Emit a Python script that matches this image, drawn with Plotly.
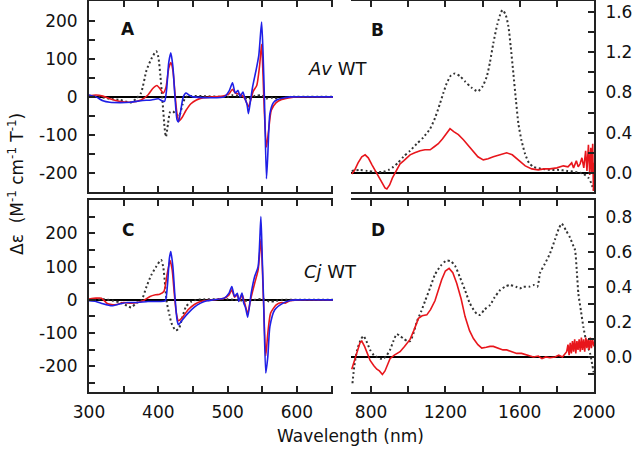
import plotly.graph_objects as go

# ---------------- Panel A (Av WT, visible) ----------------
a_red_x = [300, 310, 320, 330, 345, 360, 375, 385, 392, 398, 403, 407, 411, 415, 418, 421, 424, 427, 430, 434, 440, 447, 455, 465, 480, 495, 502, 507, 511, 515, 520, 525, 530, 533, 537, 542, 546, 549, 551, 553, 556, 559, 563, 570, 578, 590, 600, 652]
a_red_y = [3, 5, 2, -5, -12, -14, -8, 5, 22, 30, 20, 10, 25, 75, 90, 70, 10, -45, -63, -55, -35, -18, -8, -2, 0, 3, 8, 20, 10, 8, 5, -5, -26, -10, 15, 30, 80, 138, 60, -40, -132, -90, -35, -15, -7, -2, 0, 0]

a_blue_x = [300, 310, 320, 330, 345, 360, 375, 390, 400, 405, 409, 412, 415, 418, 421, 424, 427, 429, 432, 436, 440, 444, 450, 495, 502, 507, 511, 515, 518, 522, 525, 528, 530, 533, 536, 541, 545, 549, 551, 553, 556, 558, 561, 566, 572, 580, 590, 652]
a_blue_y = [5, 0, -10, -14, -15, -14, -10, -8, -5, -10, -12, 20, 90, 116, 80, 0, -60, -66, -40, 0, 10, 5, 0, 0, 15, 37, 10, 17, 0, 13, -4, -20, -44, -10, 26, 70, 110, 197, 120, 0, -215, -150, -44, -15, -7, -3, 0, 0]

a_dot_x = [300, 315, 330, 345, 360, 368, 375, 383, 390, 397, 400, 403, 406, 409, 411, 414, 417, 421, 425, 430, 435, 440, 500, 507, 520, 530, 540, 549, 556, 565, 575, 590, 652]
a_dot_y = [3, 0, -5, -8, -15, -5, 10, 70, 100, 120, 105, 55, -10, -80, -105, -70, -40, -38, -45, -50, -20, 0, 0, 4, 2, -5, 3, 4, -4, -2, -5, 0, 0]

# ---------------- Panel B (Av WT, NIR) ----------------
b_red_x = [696, 710, 730, 750, 768, 785, 805, 821, 840, 860, 875, 885, 900, 915, 929, 945, 956, 975, 990, 1010, 1035, 1064, 1090, 1118, 1140, 1162, 1185, 1205, 1225, 1245, 1270, 1297, 1325, 1351, 1375, 1404, 1430, 1458, 1490, 1530, 1560, 1585, 1602, 1630, 1665, 1700, 1730, 1763, 1800, 1835, 1860, 1880, 1890, 1905, 1915, 1925, 1935, 1945, 1955, 1962, 1970, 1977, 1983, 1988, 1993, 1997, 2000]
b_red_y = [-0.01, 0.02, 0.10, 0.16, 0.18, 0.15, 0.08, 0.03, -0.03, -0.10, -0.15, -0.16, -0.12, -0.05, 0.0, 0.05, 0.09, 0.12, 0.15, 0.18, 0.20, 0.22, 0.23, 0.23, 0.26, 0.29, 0.34, 0.39, 0.44, 0.41, 0.38, 0.33, 0.27, 0.21, 0.16, 0.13, 0.14, 0.16, 0.18, 0.20, 0.18, 0.14, 0.11, 0.07, 0.04, 0.03, 0.04, 0.04, 0.05, 0.07, 0.06, 0.10, 0.05, 0.12, 0.06, 0.09, 0.15, 0.05, 0.22, 0.02, 0.28, -0.02, 0.25, 0.0, 0.29, -0.18, 0.1]

b_dot_x = [696, 741, 780, 820, 866, 895, 920, 945, 974, 1010, 1046, 1080, 1118, 1145, 1171, 1190, 1207, 1230, 1252, 1280, 1306, 1340, 1374, 1400, 1423, 1440, 1458, 1480, 1500, 1509, 1525, 1539, 1552, 1566, 1580, 1593, 1610, 1629, 1650, 1674, 1720, 1763, 1810, 1854, 1900, 1943, 1970, 1985, 1997]
b_dot_y = [0.02, 0.03, 0.02, 0.01, 0.01, 0.03, 0.06, 0.10, 0.16, 0.22, 0.29, 0.35, 0.44, 0.55, 0.69, 0.80, 0.89, 0.97, 0.99, 0.96, 0.91, 0.85, 0.81, 0.86, 0.96, 1.10, 1.29, 1.48, 1.60, 1.62, 1.57, 1.46, 1.25, 0.99, 0.72, 0.49, 0.32, 0.19, 0.10, 0.06, 0.04, 0.03, 0.03, 0.02, 0.01, -0.01, -0.05, -0.10, -0.17]

# ---------------- Panel C (Cj WT, visible) ----------------
c_red_x = [300, 310, 318, 327, 340, 350, 360, 370, 378, 388, 396, 402, 408, 413, 417, 420, 423, 426, 429, 434, 443, 452, 461, 470, 480, 495, 502, 506, 510, 514, 517, 521, 524, 529, 533, 539, 544, 548, 550, 552, 555, 558, 562, 570, 578, 583, 590, 600, 652]
c_red_y = [2, 5, 5, -12, -14, -8, -10, -8, -3, 10, 15, 17, 25, 80, 118, 90, 20, -40, -63, -55, -30, -14, -5, -2, 0, 5, 15, 30, 8, 15, -3, 15, -5, -40, 0, 50, 90, 182, 100, -20, -168, -100, -40, -15, -8, -10, -3, 0, 0]

c_blue_x = [300, 310, 320, 333, 345, 355, 370, 385, 402, 410, 413, 416, 418, 421, 424, 427, 429, 434, 443, 452, 461, 470, 480, 495, 502, 506, 510, 514, 516, 520.7, 523, 526, 529, 534, 539, 544, 548, 550, 552, 555, 558, 561, 568, 580, 590, 600, 652]
c_blue_y = [-3, -5, -12, -18, -12, -8, -8, -5, -5, -3, 40, 125, 145, 100, 10, -60, -75, -62, -40, -22, -10, -3, 0, 5, 20, 40, 10, 20, -5, 20, -8, -25, -52, 20, 70, 100, 250, 120, -10, -220, -170, -80, -30, -10, -2, 0, 0]

c_dot_x = [300, 320, 335, 345, 355, 361, 368, 376, 383, 390, 397, 404, 407, 410, 412, 416, 419, 425, 430, 435, 440, 448, 455, 500, 510, 530, 550, 560, 570, 580, 652]
c_dot_y = [0, 2, -3, -8, -18, -23, -10, 0, 40, 75, 100, 120, 100, 40, -5, -45, -70, -92, -85, -50, -20, -5, 0, 2, 0, -3, 3, -5, -3, 0, 0]

# ---------------- Panel D (Cj WT, NIR) ----------------
d_red_x = [696, 710, 725, 740, 750, 765, 780, 795, 815, 831, 845, 861, 875, 890, 902, 925, 956, 980, 1010, 1030, 1055, 1075, 1100, 1120, 1144, 1165, 1180, 1200, 1220, 1240, 1261, 1285, 1306, 1330, 1351, 1375, 1396, 1420, 1440, 1458, 1480, 1510, 1530, 1555, 1584, 1610, 1640, 1674, 1700, 1720, 1740, 1763, 1790, 1810, 1830, 1853, 1860, 1866, 1872, 1878, 1884, 1890, 1896, 1902, 1908, 1914, 1920, 1926, 1932, 1938, 1944, 1950, 1956, 1962, 1968, 1974, 1980, 1986, 1992, 2000]
d_red_y = [-0.07, -0.02, 0.04, 0.08, 0.09, 0.06, 0.02, -0.02, -0.05, -0.07, -0.08, -0.10, -0.08, -0.04, -0.01, 0.01, 0.03, 0.06, 0.10, 0.15, 0.22, 0.235, 0.24, 0.27, 0.32, 0.39, 0.44, 0.49, 0.505, 0.48, 0.42, 0.33, 0.23, 0.15, 0.105, 0.07, 0.05, 0.055, 0.06, 0.06, 0.05, 0.04, 0.04, 0.03, 0.02, 0.02, 0.01, 0.0, 0.005, -0.01, 0.0, -0.005, 0.0, 0.01, 0.0, 0.03, 0.07, 0.01, 0.08, 0.02, 0.09, 0.03, 0.10, 0.02, 0.09, 0.04, 0.10, 0.03, 0.11, 0.04, 0.10, 0.03, 0.11, 0.05, 0.10, 0.04, 0.11, 0.05, 0.10, 0.06]

d_dot_x = [700, 710, 725, 745, 759, 775, 795, 815, 831, 850, 866, 885, 902, 920, 938, 955, 974, 995, 1010, 1030, 1046, 1070, 1091, 1120, 1144, 1175, 1207, 1230, 1252, 1280, 1306, 1330, 1351, 1370, 1387, 1410, 1440, 1465, 1494, 1520, 1548, 1580, 1600, 1620, 1650, 1674, 1695, 1710, 1735, 1763, 1790, 1810, 1826, 1850, 1871, 1890, 1898, 1908, 1916, 1930, 1943, 1960, 1979, 1990, 1997, 2000]
d_dot_y = [-0.15, -0.05, 0.04, 0.10, 0.12, 0.09, 0.04, 0.01, 0.0, -0.01, -0.01, 0.01, 0.04, 0.09, 0.13, 0.12, 0.105, 0.09, 0.09, 0.14, 0.2, 0.26, 0.32, 0.40, 0.47, 0.52, 0.55, 0.545, 0.52, 0.45, 0.38, 0.31, 0.27, 0.245, 0.24, 0.27, 0.295, 0.34, 0.38, 0.40, 0.41, 0.40, 0.39, 0.40, 0.40, 0.41, 0.40, 0.48, 0.53, 0.59, 0.67, 0.73, 0.76, 0.72, 0.68, 0.63, 0.61, 0.48, 0.36, 0.26, 0.17, 0.08, 0.02, -0.04, -0.08, -0.1]

# tick values and labels
vis_ticks = [300, 400, 500, 600]
nir_ticks = [800, 1200, 1600, 2000]
a_yticks = [-200, -100, 0, 100, 200]
a_ylabels = ["-200", "-100", "0", "100", "200"]
c_yticks = [-200, -100, 0, 100, 200]
c_ylabels = ["-200", "-100", "0", "100", "200"]
b_yticks = [0.0, 0.4, 0.8, 1.2, 1.6]
b_ylabels = ["0.0", "0.4", "0.8", "1.2", "1.6"]
d_yticks = [0.0, 0.2, 0.4, 0.6, 0.8]
d_ylabels = ["0.0", "0.2", "0.4", "0.6", "0.8"]

RED = "#e8161c"
BLUE = "#1f1fe6"
DOT = "#333333"
AXC = "#222222"
FONT = "DejaVu Sans, Liberation Sans, Arial, sans-serif"

fig = go.Figure()

def add(x, y, color, xa, ya, dash="solid", width=1.6, shape="spline"):
    fig.add_trace(go.Scatter(
        x=x, y=y, mode="lines", xaxis=xa, yaxis=ya, showlegend=False,
        line=dict(color=color, width=width, dash=dash, shape=shape,
                  smoothing=0.6 if shape == "spline" else None),
        hoverinfo="skip"))

DOTDASH = "2px,2.6px"
add(a_dot_x, a_dot_y, DOT, "x", "y", DOTDASH, 2)
add(a_red_x, a_red_y, RED, "x", "y")
add(a_blue_x, a_blue_y, BLUE, "x", "y")

add(b_dot_x, b_dot_y, DOT, "x2", "y2", DOTDASH, 2)
add(b_red_x, b_red_y, RED, "x2", "y2", shape="linear")

add(c_dot_x, c_dot_y, DOT, "x3", "y3", DOTDASH, 2)
add(c_red_x, c_red_y, RED, "x3", "y3")
add(c_blue_x, c_blue_y, BLUE, "x3", "y3")

add(d_dot_x, d_dot_y, DOT, "x4", "y4", DOTDASH, 2)
add(d_red_x, d_red_y, RED, "x4", "y4", shape="linear")

W, H = 633, 452
xdomL = [89 / W, 333 / W]
xdomR = [351 / W, 594 / W]
ydomT = [(H - 192) / H, (H - 1) / H]
ydomB = [(H - 392) / H, (H - 200) / H]

tickfont = dict(family=FONT, size=17, color="#111")

def xax(dom, rng, tv, minor, anchor, labels):
    return dict(domain=dom, range=rng, anchor=anchor, tickvals=tv,
                showticklabels=labels, ticks="inside", ticklen=6, tickwidth=1.5,
                tickcolor=AXC, showline=True, linewidth=2, linecolor=AXC,
                mirror="ticks", showgrid=False, zeroline=False, automargin=False,
                minor=dict(dtick=minor, ticks="inside", ticklen=6, tickwidth=1.5,
                           tickcolor=AXC, showgrid=False),
                tickfont=tickfont, ticklabelstandoff=4)

def yax(dom, rng, tv, tt, minor, anchor, side):
    return dict(domain=dom, range=rng, anchor=anchor, side=side, tickvals=tv,
                ticktext=tt, ticks="inside", ticklen=6, tickwidth=1.5,
                tickcolor=AXC, showline=True, linewidth=2, linecolor=AXC,
                mirror=False, showgrid=False, zeroline=True, automargin=False,
                zerolinecolor="#000", zerolinewidth=1.6,
                minor=dict(dtick=minor, ticks="inside", ticklen=6, tickwidth=1.5,
                           tickcolor=AXC, showgrid=False),
                tickfont=tickfont, ticklabelstandoff=6)

fig.update_layout(
    width=W, height=H, autosize=False,
    margin=dict(l=0, r=0, t=0, b=0, pad=0),
    paper_bgcolor="white", plot_bgcolor="white",
    font=dict(family=FONT, size=17, color="#111"),
    xaxis=xax(xdomL, [300, 652], vis_ticks, 50, "y", False),
    xaxis2=xax(xdomR, [692, 2000], nir_ticks, 200, "y2", False),
    xaxis3=xax(xdomL, [300, 652], vis_ticks, 50, "y3", True),
    xaxis4=xax(xdomR, [692, 2000], nir_ticks, 200, "y4", True),
    yaxis=yax(ydomT, [-250, 252], a_yticks, a_ylabels, 50, "x", "left"),
    yaxis2=yax(ydomT, [-0.19, 1.71], b_yticks, b_ylabels, 0.2, "x2", "right"),
    yaxis3=yax(ydomB, [-277, 300], c_yticks, c_ylabels, 50, "x3", "left"),
    yaxis4=yax(ydomB, [-0.2, 0.895], d_yticks, d_ylabels, 0.1, "x4", "right"),
)

def ann(text, x, y, size=17, bold=False, angle=0, xanchor="center"):
    fig.add_annotation(text=("<b>%s</b>" % text) if bold else text,
                       xref="paper", yref="paper", x=x / W, y=1 - y / H,
                       xanchor=xanchor, yanchor="middle", showarrow=False,
                       textangle=angle, font=dict(family=FONT, size=size, color="#111"))

ann("A", 128, 29, bold=True)
ann("B", 378, 30, bold=True)
ann("C", 128, 230, bold=True)
ann("D", 378, 230, bold=True)
ann("<i>Av</i> WT", 306, 68, size=18, xanchor="left")
ann("<i>Cj</i> WT", 302, 271, size=18, xanchor="left")
ann("Wavelength (nm)", 351, 436)
ann("Δε  (M<sup>-1</sup> cm<sup>-1</sup> T<sup>-1</sup>)", 16, 184, angle=-90)

fig.write_html("out.html", config={"displayModeBar": False},
               post_script="document.body.style.margin='0';document.body.style.overflow='hidden';")
